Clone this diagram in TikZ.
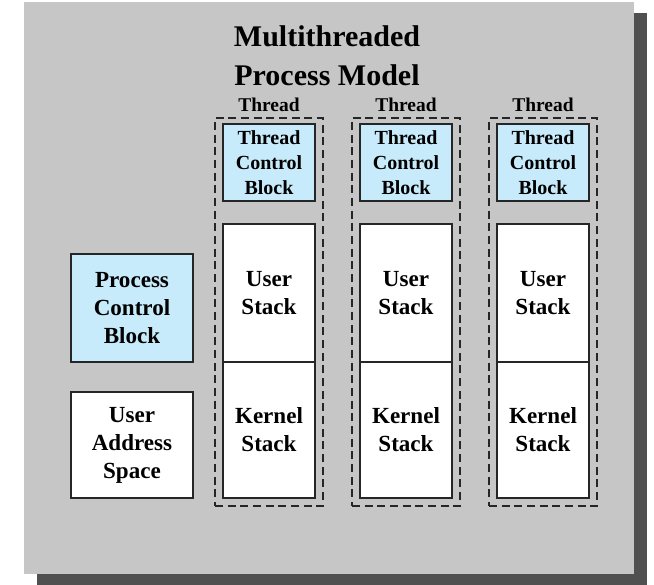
\documentclass[tikz,border=0pt]{standalone}
\usepackage{fontspec}
\setmainfont{Liberation Serif}
\definecolor{panelgray}{RGB}{198,198,198}
\definecolor{shadowgray}{RGB}{80,80,80}
\definecolor{lblue}{RGB}{199,235,250}
\begin{document}
\begin{tikzpicture}[x=0.75pt,y=-0.75pt,
  box/.style={draw=black!85,line width=1pt,inner sep=0pt,align=center,
    font=\fontsize{17.3}{21}\selectfont\bfseries},
  tcb/.style={box,fill=lblue,minimum width=69pt,minimum height=57.75pt,
    font=\fontsize{15}{18.75}\selectfont\bfseries},
  ustack/.style={box,fill=white,minimum width=69pt,minimum height=103.5pt},
  kstack/.style={box,fill=white,minimum width=69pt,minimum height=102pt},
  thr/.style={draw=black!85,line width=1.1pt,dash pattern=on 6pt off 3.5pt,
    minimum width=81pt,minimum height=291pt,inner sep=0pt},
  thrlabel/.style={font=\fontsize{14.6}{17}\selectfont\bfseries,inner sep=0pt},
  titlef/.style={font=\fontsize{22.5}{30}\selectfont\bfseries,inner sep=0pt,anchor=base}
]
\useasboundingbox (0,0) rectangle (654,585);
\fill[shadowgray] (37,13) rectangle (647,585);
\fill[panelgray] (24,2) rectangle (634,574);

\node[titlef] (t1) at (327,47) {Multithreaded};
\node[titlef] (t2) at (327,86) {Process Model};

\foreach \i/\cx in {1/269,2/406,3/543}{
  \node[thr] (th\i) at (\cx,312) {};
  \node[thrlabel] (lab\i) at (\cx,105) {Thread};
  \node[tcb] (tcb\i) at (\cx,162.5) {Thread\\Control\\Block};
  \node[ustack] (us\i) at (\cx,293) {User\\Stack};
  \node[kstack] (ks\i) at (\cx,430) {Kernel\\Stack};
}

\node[box,fill=lblue,minimum width=91.5pt,minimum height=81pt] (pcb) at (132,308) {Process\\Control\\Block};
\node[box,fill=white,minimum width=91.5pt,minimum height=79.5pt] (uas) at (132,445) {User\\Address\\Space};
\end{tikzpicture}
\end{document}
